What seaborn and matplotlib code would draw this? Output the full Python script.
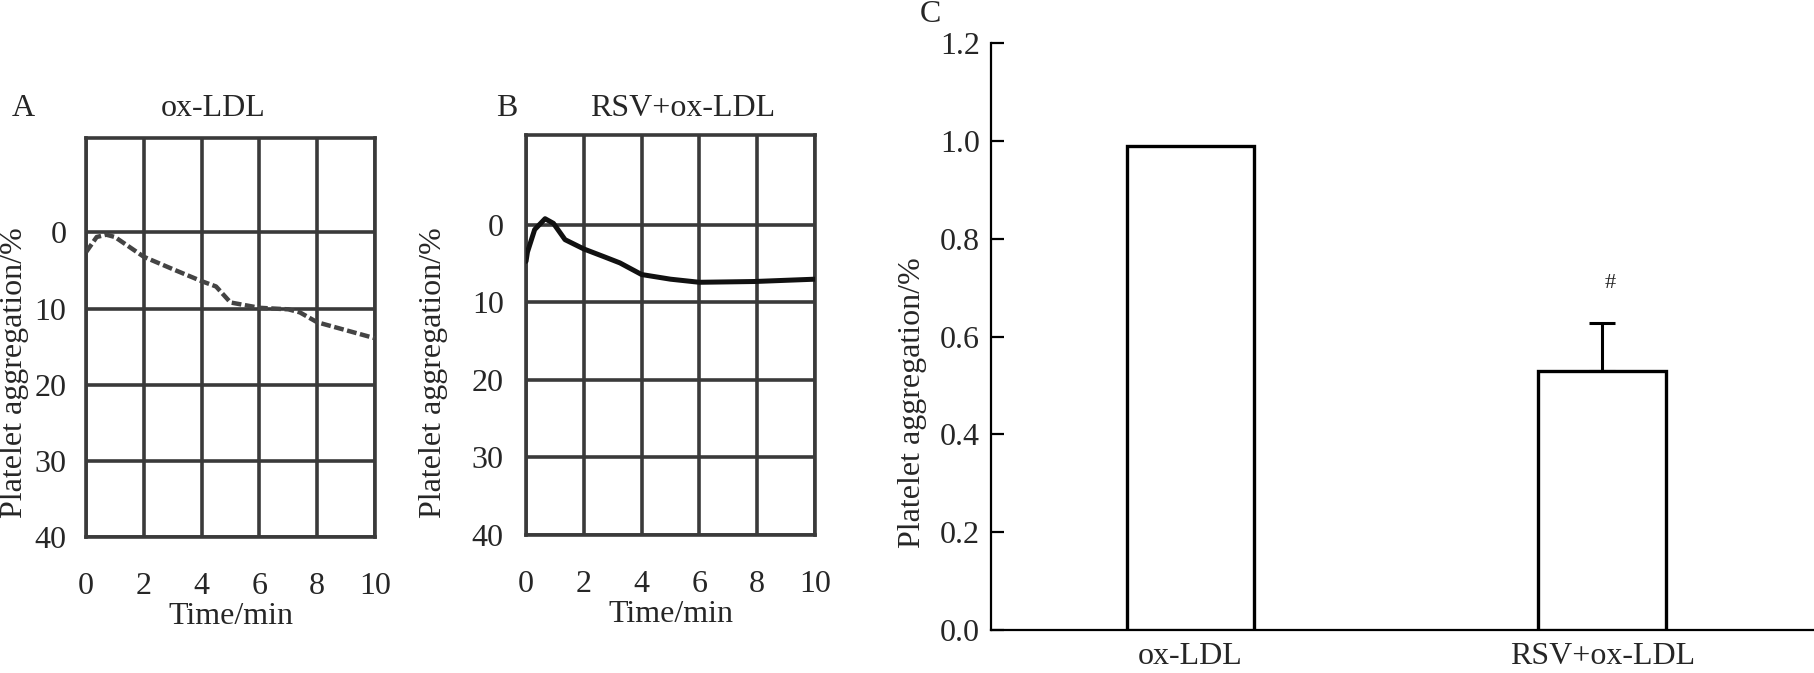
import matplotlib
matplotlib.use("Agg")
import matplotlib.pyplot as plt
import seaborn as sns

# panel A: ox-LDL trace
time_a = [0, 0.37, 0.7, 1.0, 2, 3.05, 4, 4.5, 5, 6, 7, 7.4, 8, 9.05, 10]
agg_a = [2.6, 0.6, 0.3, 0.6, 3.2, 4.9, 6.4, 7.1, 9.2, 9.9, 10.1, 10.5, 11.8, 12.9, 13.9]

# panel B: RSV+ox-LDL trace
time_b = [0, 0.05, 0.3, 0.66, 0.95, 1.35, 2, 2.7, 3.25, 4, 5, 6, 7.9, 10]
agg_b = [4.7, 3.5, 0.6, -0.8, -0.2, 1.9, 3.1, 4.1, 4.9, 6.4, 7.0, 7.4, 7.3, 7.0]

# panel C: bars
groups = ["ox-LDL", "RSV+ox-LDL"]
means = [0.99, 0.53]
err_up = [0.0, 0.097]

time_ticks = [0, 2, 4, 6, 8, 10]
agg_ticks = [0, 10, 20, 30, 40]
c_ticks = [0.0, 0.2, 0.4, 0.6, 0.8, 1.0, 1.2]

sns.set_style("white")
plt.rcParams["font.family"] = ["Liberation Serif", "DejaVu Serif"]
plt.rcParams["font.size"] = 23

W, H = 1815, 673
fig = plt.figure(figsize=(W / 100, H / 100), dpi=100)


def box(left, top, right, bottom):
    return [left / W, 1 - bottom / H, (right - left) / W, (bottom - top) / H]


grid_col = "#3a3a3a"


def trace_panel(ax, t, y, top, dashed, ylab_x, ylab_y, ypad):
    ax.set_xlim(0, 10)
    ax.set_ylim(40, top)
    ax.set_xticks(time_ticks)
    ax.set_yticks(agg_ticks)
    ax.grid(True, color=grid_col, lw=2.6)
    for s in ax.spines.values():
        s.set_visible(True)
        s.set_color(grid_col)
        s.set_linewidth(2.6)
    ax.tick_params(length=0, labelsize=23)
    ax.tick_params(axis="x", pad=25)
    ax.tick_params(axis="y", pad=ypad)
    if dashed:
        sns.lineplot(x=t, y=y, ax=ax, color="#444444", lw=3.2, linestyle=(0, (2.2, 0.8)),
                     estimator=None, zorder=5)
    else:
        sns.lineplot(x=t, y=y, ax=ax, color="#111111", lw=3.6, estimator=None, zorder=5)
    ax.set_xlabel("Time/min", fontsize=23, labelpad=1)
    ax.set_ylabel("Platelet aggregation/%", fontsize=23)
    ax.yaxis.set_label_coords(ylab_x, ylab_y)


ax_a = fig.add_axes(box(86, 138, 375, 537))
trace_panel(ax_a, time_a, agg_a, -12.4, True, -0.196, 0.411, 14)

ax_b = fig.add_axes(box(526, 135, 815, 535))
trace_panel(ax_b, time_b, agg_b, -11.6, False, -0.27, 0.405, 16)

fig.text(23 / W, 1 - 108 / H, "A", ha="center", va="center", fontsize=23)
fig.text(213 / W, 1 - 108 / H, "ox-LDL", ha="center", va="center", fontsize=23)
fig.text(507 / W, 1 - 108 / H, "B", ha="center", va="center", fontsize=23)
fig.text(683 / W, 1 - 108 / H, "RSV+ox-LDL", ha="center", va="center", fontsize=23)

# panel C
ax_c = fig.add_axes(box(991, 43, 1815, 630))
sns.barplot(x=groups, y=means, ax=ax_c, color="white", saturation=1,
            edgecolor="black", linewidth=2.4, width=0.31, zorder=3)
ax_c.errorbar([1], [means[1]], yerr=[[0], [err_up[1]]], fmt="none",
              ecolor="black", elinewidth=2.2, capsize=9.7, capthick=2.2, zorder=2)
ax_c.text(1.02, 0.709, "#", ha="center", va="center", fontsize=16)
ax_c.set_xlim(-0.485, 1.517)
ax_c.set_ylim(0, 1.2)
ax_c.set_yticks(c_ticks)
ax_c.set_yticklabels([f"{v:.1f}" for v in c_ticks])
sns.despine(ax=ax_c)
for s in ["left", "bottom"]:
    ax_c.spines[s].set_color("black")
    ax_c.spines[s].set_linewidth(1.6)
ax_c.tick_params(axis="y", direction="in", length=9, width=1.6, color="black",
                 pad=8, labelsize=23, left=True)
ax_c.tick_params(axis="x", length=0, pad=9, labelsize=23)
ax_c.set_ylabel("Platelet aggregation/%", fontsize=23)
ax_c.yaxis.set_label_coords(-0.0777, 0.387)
ax_c.set_xlabel("")

fig.text(930 / W, 1 - 14 / H, "C", ha="center", va="center", fontsize=23)

fig.savefig("out.png", dpi=100)
